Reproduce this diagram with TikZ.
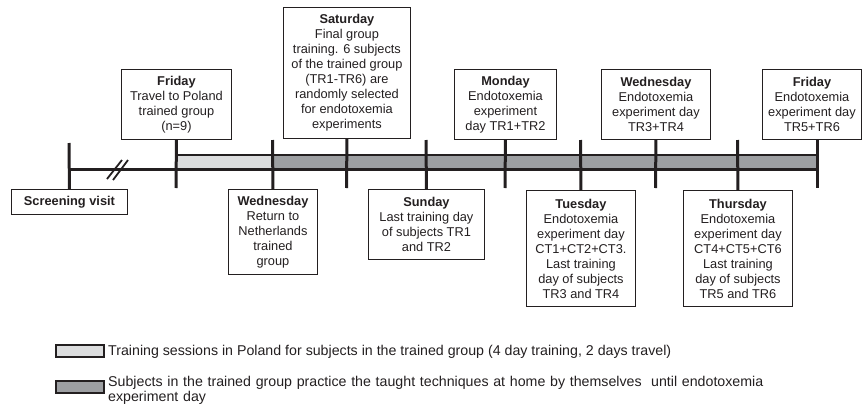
\documentclass[tikz,border=0pt]{standalone}
\usepackage{fontspec}
\setmainfont{Liberation Sans}
\definecolor{ink}{HTML}{231F20}
\definecolor{lightbar}{HTML}{DCDDDE}
\definecolor{darkbar}{HTML}{9D9FA2}
\begin{document}
\begin{tikzpicture}[x=1pt,y=-1pt,
  box/.style={draw=ink, line width=0.9pt, align=center, anchor=north west,
    inner sep=0pt, font=\fontsize{12.8}{15}\selectfont, text=ink},
  tickline/.style={line width=3pt, draw=ink},
  barpart/.style={line width=2pt, draw=ink},
  legbox/.style={draw=ink, line width=2pt, minimum width=48, minimum height=12,
    anchor=north west, inner sep=0pt},
  legtext/.style={inner sep=0pt, font=\fontsize{14.2}{15.5}\selectfont, text=ink, align=left}
  ]
\useasboundingbox (0,0) rectangle (862,410);

% bars
\draw[barpart, fill=lightbar] (176,155) rectangle (273,169);
\draw[barpart, fill=darkbar] (273,155) rectangle (817,169);

% axis
\coordinate (a0) at (69,169);
\coordinate (a1) at (817,169);
\draw[line width=3pt, draw=ink] (a0) -- (a1);

% break mark
\draw[line width=1.8pt, draw=ink] (107,179) -- (122,160);
\draw[line width=1.8pt, draw=ink] (113,180) -- (128,160);

% top boxes
\node[box, minimum width=110, minimum height=70] (fri1) at (121,69)
  {\textbf{Friday}\\Travel to Poland\\trained group\\(n=9)};
\node[box, minimum width=127, minimum height=131] (sat) at (283,7)
  {\textbf{Saturday}\\Final group\\training. 6 subjects\\of the trained group\\(TR1-TR6) are\\randomly selected\\for endotoxemia\\experiments};
\node[box, minimum width=102, minimum height=70] (mon) at (454,69)
  {\textbf{Monday}\\Endotoxemia\\experiment\\day TR1+TR2};
\node[box, minimum width=109, minimum height=70] (wed1) at (601,69)
  {\textbf{Wednesday}\\Endotoxemia\\experiment day\\TR3+TR4};
\node[box, minimum width=99, minimum height=70] (fri2) at (762,69)
  {\textbf{Friday}\\Endotoxemia\\experiment day\\TR5+TR6};

% bottom boxes
\node[box, minimum width=116, minimum height=25] (scr) at (11,189)
  {\textbf{Screening visit}};
\node[box, minimum width=89, minimum height=85] (wed2) at (228,189)
  {\textbf{Wednesday}\\Return to\\Netherlands\\trained\\group};
\node[box, minimum width=116, minimum height=70] (sun) at (368,189)
  {\textbf{Sunday}\\Last training day\\of subjects TR1\\and TR2};
\node[box, minimum width=109, minimum height=116] (tue) at (526,190)
  {\textbf{Tuesday}\\Endotoxemia\\experiment day\\CT1+CT2+CT3.\\Last training\\day of subjects\\TR3 and TR4};
\node[box, minimum width=109, minimum height=116] (thu) at (683,190)
  {\textbf{Thursday}\\Endotoxemia\\experiment day\\CT4+CT5+CT6\\Last training\\day of subjects\\TR5 and TR6};

% ticks
\coordinate (t0) at (69,143);
\coordinate (t1) at (176,188);
\coordinate (t2) at (272.5,140);
\coordinate (t3) at (346.5,188);
\coordinate (t4) at (426,140);
\coordinate (t5) at (505,188);
\coordinate (t6) at (580.5,140);
\coordinate (t7) at (655.5,188);
\coordinate (t8) at (737.5,140);
\coordinate (t9) at (817,188);
\draw[tickline] (t0) -- (scr.north);
\draw[tickline] (fri1.south) -- (t1);
\draw[tickline] (t2) -- (wed2.north);
\draw[tickline] (sat.south) -- (t3);
\draw[tickline] (t4) -- (sun.north);
\draw[tickline] (mon.south) -- (t5);
\draw[tickline] (t6) -- (tue.north);
\draw[tickline] (wed1.south) -- (t7);
\draw[tickline] (t8) -- (thu.north);
\draw[tickline] (fri2.south -| t9) -- (t9);

% legend
\node[legbox, fill=lightbar] (lg1) at (55,344) {};
\node[legtext, anchor=base west] (lt1) at (108,355.5)
  {Training sessions in Poland for subjects in the trained group (4 day training, 2 days travel)};
\node[legbox, fill=darkbar] (lg2) at (55,380) {};
\node[legtext, anchor=north west, text width=740] (lt2) at (108,376)
  {Subjects in the trained group practice the taught techniques at home by themselves\ \ until endotoxemia\\experiment day};
\end{tikzpicture}
\end{document}
